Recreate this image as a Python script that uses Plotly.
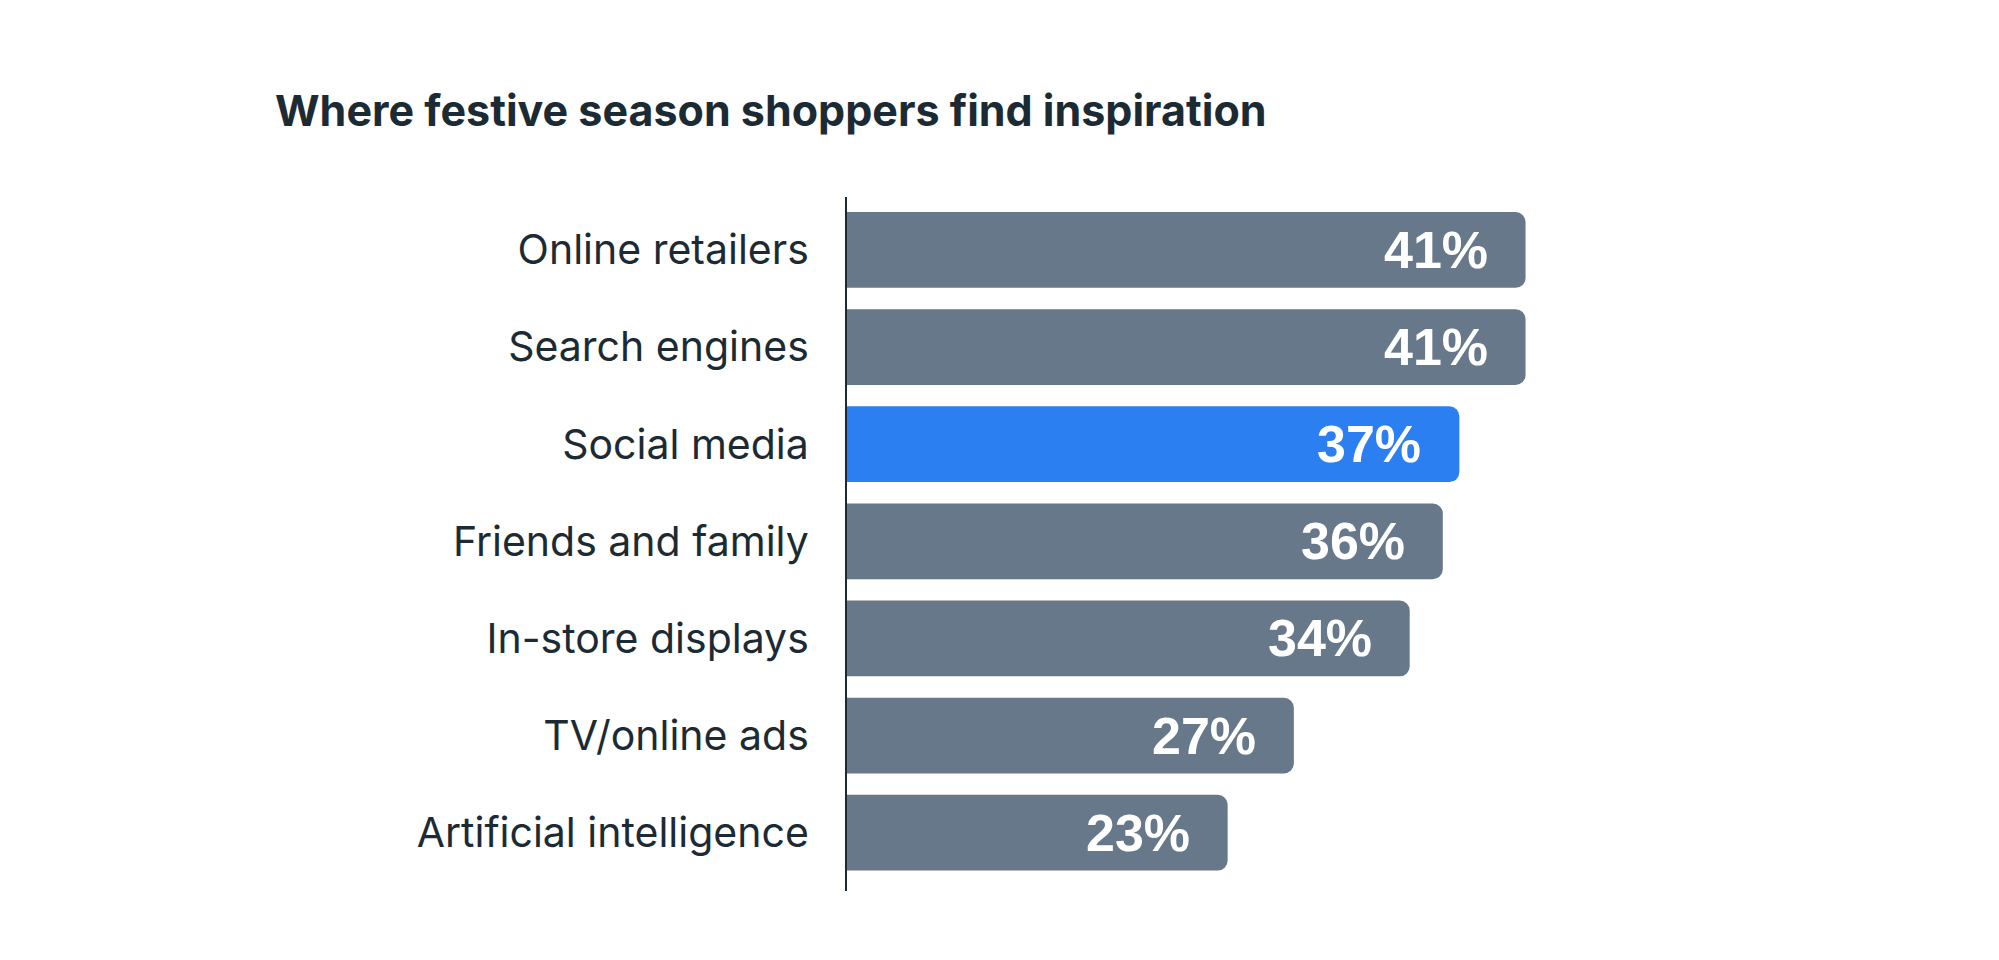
""" Horizontal bar chart: where festive season shoppers find inspiration """
import plotly.graph_objects as go

categories = [
    "Online retailers",
    "Search engines",
    "Social media",
    "Friends and family",
    "In-store displays",
    "TV/online ads",
    "Artificial intelligence",
]
shares = [41, 41, 37, 36, 34, 27, 23]
highlight = "Social media"

GREY = "#67788a"
BLUE = "#2c7ff0"
INK = "#1c2b33"

bar_colors = [BLUE if c == highlight else GREY for c in categories]

fig = go.Figure(
    go.Bar(
        x=shares,
        y=categories,
        orientation="h",
        marker=dict(color=bar_colors, line=dict(width=0), cornerradius=10),
        hoverinfo="skip",
    )
)

# percentage labels sit inside the bar end, with some padding
for cat, val in zip(categories, shares):
    fig.add_annotation(
        x=val, y=cat, xref="x", yref="y",
        text=f"{val}%", showarrow=False,
        xanchor="right", yanchor="middle", xshift=-36,
        font=dict(family="Liberation Sans, Arial", size=52, color="white", weight="bold"),
    )

# the page body adds an 8px offset, margins below allow for it
fig.update_layout(
    width=1999,
    height=960,
    paper_bgcolor="white",
    plot_bgcolor="white",
    showlegend=False,
    bargap=0.22,
    margin=dict(l=839, r=167, t=189, b=77),
    title=dict(
        text="Where festive season shoppers find inspiration",
        x=267 / 1999, xanchor="left", xref="container",
        y=1 - 103 / 960, yanchor="middle", yref="container",
        font=dict(family="Inter", size=43, color=INK, weight="bold"),
    ),
    xaxis=dict(
        range=[0, 60],
        showgrid=False, zeroline=False, showline=False,
        showticklabels=False, ticks="",
    ),
    yaxis=dict(
        range=[6.6, -0.545],
        showgrid=False, zeroline=False,
        showline=True, linecolor=INK, linewidth=2,
        ticks="", ticklabelstandoff=28,
        tickfont=dict(family="Inter", size=41, color=INK),
    ),
)

fig.write_html("out.html")
